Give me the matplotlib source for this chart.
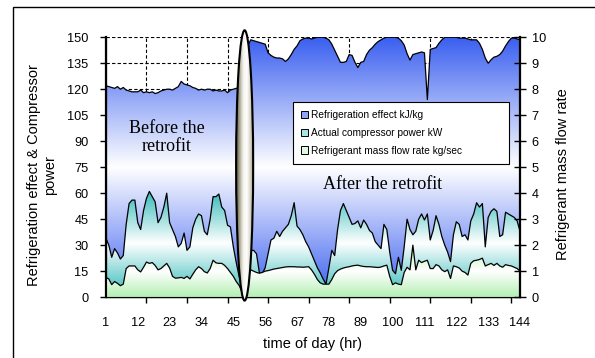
import numpy as np
import matplotlib
matplotlib.use("Agg")
import matplotlib.pyplot as plt
from matplotlib.colors import LinearSegmentedColormap
from matplotlib.patches import Ellipse, Rectangle, Patch

plt.rcParams["font.family"] = ["Liberation Sans", "DejaVu Sans"]

hours = list(range(1, 145))

# refrigeration effect kJ/kg (left axis)
refrig_effect = [
    122, 121.5, 121, 120.5, 121.5, 120, 121, 119.5, 119, 118.5,
    118.5, 118.5, 119.5, 118, 118.5, 118, 118.5, 117.5, 118, 119,
    119.5, 120, 120, 119.5, 120.5, 121.5, 124.5, 123, 122.5, 122,
    121, 120.5, 119.5, 120, 119.5, 120, 120, 119, 119.5, 119,
    119, 119.5, 118, 119.5, 120, 120.5, 121, 125, 135, 145,
    148.5, 148, 147.5, 147, 146.5, 146, 141, 139.5, 138.5, 138,
    138, 137.5, 136, 137.5, 140, 143, 145, 148, 149, 149.5,
    149.5, 149, 149.5, 150, 150, 150, 149.5, 148.5, 146, 142.5,
    139, 135.5, 135.5, 136, 140, 139.5, 135.5, 132.5, 135.5, 136,
    140, 142.5, 144, 146, 147.5, 148.5, 149.5, 150, 150, 150,
    150, 149.5, 148, 145.5, 140.5, 136.8, 140, 140.5, 141, 141.5,
    141, 114, 143, 143.5, 144, 146.5, 148.5, 150, 150, 150,
    150, 150, 149.5, 149.5, 149.5, 149, 148.5, 148.5, 148.5, 146.5,
    143, 138, 135, 137, 138.5, 139, 140, 142, 145, 147.5,
    149.5, 149.5, 149, 148.5,
]

# actual compressor power kW (left axis)
comp_power = [
    34, 30, 23, 28, 25.5, 22, 24, 42, 54, 56,
    56, 43, 39, 50, 57, 61, 58, 55, 43, 46,
    52, 60, 43, 39, 35, 29, 31, 37, 27, 29,
    40, 45, 48, 47, 38, 36, 45, 58, 58, 59.5,
    52, 50, 41.5, 40.5, 29, 20, 12, 5, 10, 20,
    27, 27, 25, 14, 13.5, 17, 25, 33, 34, 38,
    35, 38, 40, 42, 47, 54.5, 41, 39, 36, 32,
    29, 25, 21, 17, 14, 10.5, 7.5, 17, 27, 24,
    39, 50, 54, 50, 46, 42, 42.5, 44, 40, 44.5,
    42, 38.5, 37, 32, 30, 28, 42, 39, 26, 15.5,
    13.5, 23, 15.5, 29, 45, 39, 36, 38, 45, 48,
    44.5, 48, 33, 38.5, 47, 42, 35, 30, 26, 20.5,
    36, 43.5, 42, 35, 36, 33, 44, 48, 54.5, 52,
    54, 29, 46, 49.5, 51, 49.5, 35, 36, 49, 48,
    47, 46, 44, 38,
]

# refrigerant mass flow rate kg/sec (right axis)
mass_flow = [
    0.76, 0.7, 0.48, 0.6, 0.53, 0.44, 0.5, 1.1, 1.2, 1.2,
    1.2, 1.05, 0.97, 1.15, 1.35, 1.3, 1.33, 1.22, 1.05, 1.1,
    1.2, 1.3, 1.12, 0.8, 0.73, 0.74, 0.76, 0.72, 0.8, 0.7,
    0.88, 1.05, 1.17, 1.1, 0.98, 0.93, 1.1, 1.42, 1.32, 1.3,
    1.3, 1.22, 1.1, 0.95, 0.8, 0.6, 0.45, 0.2, 0.3, 0.8,
    1.05, 1.0, 0.95, 0.92, 0.95, 1.0, 1.02, 1.05, 1.08, 1.1,
    1.12, 1.14, 1.16, 1.17, 1.17, 1.17, 1.16, 1.16, 1.15, 1.16,
    1.17, 1.05, 0.88, 0.68, 0.55, 0.5, 0.5, 0.5, 0.68, 0.9,
    1.02, 1.08, 1.12, 1.15, 1.17, 1.2, 1.22, 1.23, 1.2, 1.18,
    1.17, 1.17, 1.16, 1.15, 1.14, 1.16, 1.2, 1.23, 0.8, 0.48,
    0.55, 0.5, 0.48, 0.95, 1.15, 1.05, 2.0, 1.05, 1.42, 1.33,
    1.38, 1.42, 1.1, 1.1, 1.25, 1.2, 1.05, 0.98, 1.05, 0.72,
    1.2, 1.17, 1.12, 1.0, 0.95, 0.85, 1.3, 1.4, 1.42, 1.45,
    1.5, 1.2, 1.25, 1.3, 1.22, 1.3, 1.2, 1.15, 1.25, 1.22,
    1.2, 1.15, 1.1, 1.0,
]

label_hours = [1, 12, 23, 34, 45, 56, 67, 78, 89, 100, 111, 122, 133, 144]
mark_hours = [1, 15, 29, 43, 57, 71, 85, 99, 113, 127, 141]
left_ticks = list(range(0, 151, 15))
right_ticks = list(range(0, 11))

legend_names = ["Refrigeration effect kJ/kg",
                "Actual compressor power kW",
                "Refrigerant mass flow rate kg/sec"]
legend_colors = ["#8ea6f8", "#a6e6e6", "#e2f8e2"]


def gradient_area(ax, x, y, colors, top, z):
    band = ax.fill_between(x, 0, y, facecolor="none", edgecolor="none", zorder=z)
    cmap = LinearSegmentedColormap.from_list("grad", colors)
    im = ax.imshow(np.linspace(0, 1, 256).reshape(-1, 1), cmap=cmap, origin="lower",
                   aspect="auto", extent=[x[0], x[-1], 0, top],
                   interpolation="bilinear", zorder=z)
    im.set_clip_path(band.get_paths()[0], transform=ax.transData)
    ax.plot(x, y, color="black", lw=0.9, zorder=z + 0.1)


fig = plt.figure(figsize=(5.95, 3.58), dpi=100)
ax = fig.add_axes([0.178, 0.170, 0.696, 0.726])
ax2 = ax.twinx()

# outer chart frame
fig.patches.append(Rectangle((13 / 595, -0.1), 1.2, 1.1 - 7 / 358, transform=fig.transFigure,
                             fill=False, edgecolor="black", lw=1))

gradient_area(ax, hours, refrig_effect, ["#3a5ff0", "#ffffff", "#3a5ff0"], 150, 1)
gradient_area(ax, hours, comp_power, ["#2fb8b8", "#ffffff", "#2fb8b8"], 62, 2)
gradient_area(ax2, hours, mass_flow, ["#b4f0b4", "#ffffff", "#b4f0b4"], 2.0, 1)

# axes: labels on major x ticks, tick marks on minor ones
ax.set_xlim(1, 144)
ax.set_ylim(0, 150)
ax2.set_ylim(0, 10)
ax.set_xticks(label_hours, labels=[str(h) for h in label_hours])
ax.set_xticks(mark_hours, minor=True)
ax.tick_params(axis="x", which="major", length=0, pad=14, labelsize=9.2)
ax.tick_params(axis="x", which="minor", direction="out", length=4, width=1)
ax.set_yticks(left_ticks)
ax.tick_params(axis="y", direction="out", length=4.5, width=1, pad=8, labelsize=9.2)
ax2.set_yticks(right_ticks)
ax2.tick_params(axis="y", direction="inout", length=9, width=1, pad=4, labelsize=9.2)

# grid
ax.set_axisbelow(True)
ax.xaxis.grid(True, which="minor", color="black", linestyle=(0, (3, 2)), lw=0.8)
ax.yaxis.grid(True, which="major", color="black", linestyle=(0, (3, 2)), lw=0.8)

for s in ["top", "right"]:
    ax.spines[s].set_visible(False)
ax2.spines["top"].set_visible(False)
ax.spines["left"].set_linewidth(1.6)
ax2.spines["right"].set_linewidth(1.6)
ax.spines["bottom"].set_linewidth(1)

ax.set_xlabel("time of day (hr)", fontsize=10.5, labelpad=6)
ax.set_ylabel("Refrigeration effect & Compressor\npower", fontsize=10.5)
ax.yaxis.set_label_coords(-0.118, 0.47)
ax2.set_ylabel("Refrigerant mass flow rate", fontsize=10.5)
ax2.yaxis.set_label_coords(1.087, 0.475)

# annotations
ax.text(22, 92, "Before the\nretrofit", family=["Liberation Serif", "DejaVu Serif"],
        fontsize=13, ha="center", va="center", linespacing=1.1, zorder=5)
ax.text(96.4, 65, "After the retrofit", family=["Liberation Serif", "DejaVu Serif"],
        fontsize=13, ha="center", va="center", zorder=5)

# separator shape between the two periods
ell = Ellipse((48.9, 76), 5.9, 156, transform=ax.transData, facecolor="none",
              edgecolor="black", lw=1.5, clip_on=False, zorder=10)
ax2.add_patch(ell)
shade = LinearSegmentedColormap.from_list(
    "cyl", ["#4a4836", "#a9a690", "#f4f3ec", "#ffffff", "#d8d5c6", "#8f8a72"])
im = ax2.imshow(np.linspace(0, 1, 256).reshape(1, -1), cmap=shade, aspect="auto",
                extent=[45.95, 51.85, -2, 154], transform=ax.transData,
                interpolation="bilinear", zorder=9)
im.set_clip_path(ell)
im.set_clip_box(fig.bbox)

handles = [Patch(facecolor=c, edgecolor="black", lw=0.7) for c in legend_colors]
leg = ax2.legend(handles, legend_names, loc="upper left", bbox_to_anchor=(0.452, 0.512, 0.522, 0.238),
                 mode="expand", borderaxespad=0, fontsize=7.3, handlelength=0.7, handleheight=0.7,
                 handletextpad=0.3, labelspacing=0.75, borderpad=0.8, fancybox=False, framealpha=1,
                 edgecolor="black")
leg.get_frame().set_linewidth(0.8)
leg.set_zorder(20)

ax.set_xlim(1, 144)
ax.set_ylim(0, 150)
ax2.set_ylim(0, 10)

fig.savefig("out.png", dpi=100)
